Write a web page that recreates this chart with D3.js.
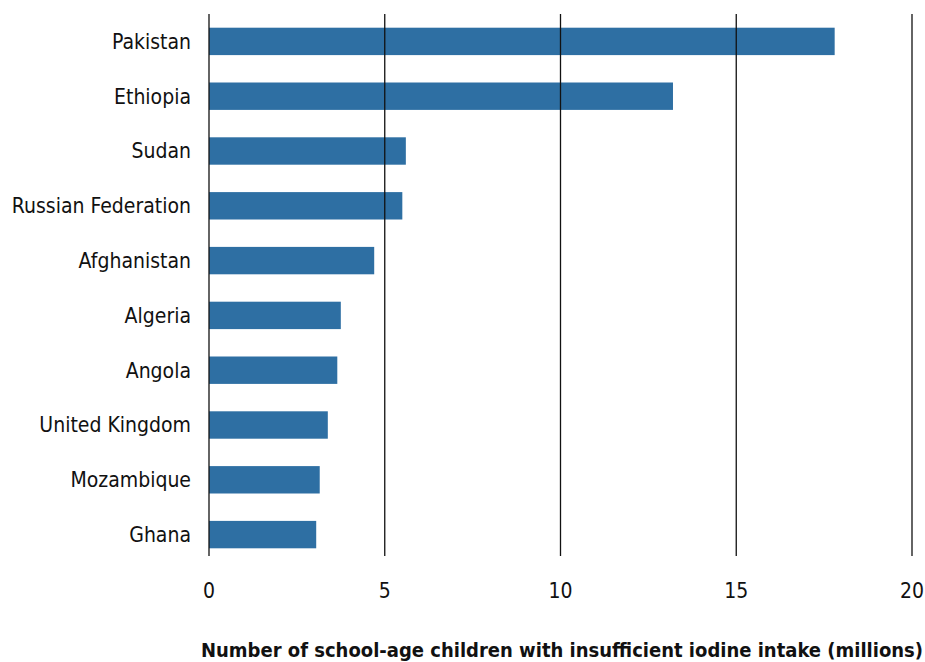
<!DOCTYPE html>
<html>
<head>
<meta charset="utf-8">
<script src="https://cdn.jsdelivr.net/npm/d3@7"></script>
<style>
  body { margin: 0; background: #fff; }
  svg text { font-family: "Liberation Sans Narrow", "DejaVu Sans Condensed", sans-serif; fill: #111; }
</style>
</head>
<body>
<div id="chart"></div>
<script>
// Data
const countries = ['Pakistan', 'Ethiopia', 'Sudan', 'Russian Federation', 'Afghanistan',
  'Algeria', 'Angola', 'United Kingdom', 'Mozambique', 'Ghana'];
const values = [17.8, 13.2, 5.6, 5.5, 4.7, 3.75, 3.65, 3.38, 3.15, 3.05];
const xTicks = [0, 5, 10, 15, 20];
const axisTitle = 'Number of school-age children with insufficient iodine intake (millions)';

const width = 925, height = 662;
const margin = { top: 14, right: 13, bottom: 100, left: 209 };

const svg = d3.select('#chart').append('svg')
  .attr('width', width)
  .attr('height', height);

const x = d3.scaleLinear()
  .domain([0, 20])
  .range([margin.left, width - margin.right]);

const y = d3.scaleBand()
  .domain(countries)
  .range([margin.top, height - margin.bottom])
  .paddingInner(0.5)
  .paddingOuter(0.25);

// bars
svg.append('g')
  .selectAll('rect')
  .data(countries)
  .enter()
  .append('rect')
  .attr('x', x(0))
  .attr('y', d => y(d))
  .attr('width', (d, i) => x(values[i]) - x(0))
  .attr('height', y.bandwidth())
  .attr('fill', '#2e6fa3');

// vertical grid lines (drawn over the bars)
const gridBottom = 556;
svg.append('g')
  .selectAll('line')
  .data(xTicks)
  .enter()
  .append('line')
  .attr('x1', d => x(d))
  .attr('x2', d => x(d))
  .attr('y1', margin.top)
  .attr('y2', gridBottom)
  .attr('stroke', '#111')
  .attr('stroke-width', 1.3);

// category labels
svg.append('g')
  .selectAll('text')
  .data(countries)
  .enter()
  .append('text')
  .attr('x', margin.left - 18)
  .attr('y', d => y(d) + y.bandwidth() / 2)
  .attr('dy', '0.35em')
  .attr('text-anchor', 'end')
  .attr('font-size', 21)
  .text(d => d);

// tick labels
svg.append('g')
  .selectAll('text')
  .data(xTicks)
  .enter()
  .append('text')
  .attr('x', d => x(d))
  .attr('y', 591)
  .attr('dy', '0.35em')
  .attr('text-anchor', 'middle')
  .attr('font-size', 21)
  .text(d => d);

// axis title
svg.append('text')
  .attr('x', 562)
  .attr('y', 650)
  .attr('dy', '0.35em')
  .attr('text-anchor', 'middle')
  .attr('font-size', 20)
  .attr('font-weight', 'bold')
  .text(axisTitle);
</script>
</body>
</html>
